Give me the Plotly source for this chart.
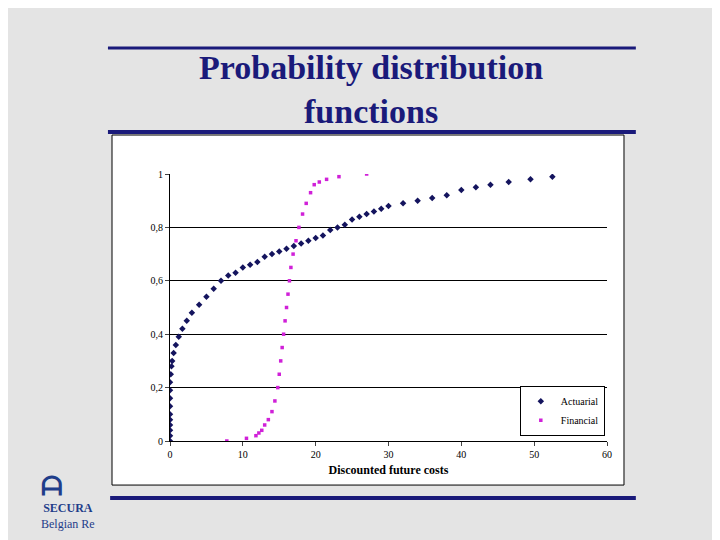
import plotly.graph_objects as go

# Actuarial distribution
act_x = [0, 0, 0, 0, 0, 0, 0, 0, 0, 0, 0.1, 0.2, 0.3, 0.5, 0.8, 1.2, 1.7, 2.3, 3, 4, 5, 6, 7,
         8, 9, 10, 11, 12, 13, 14, 15, 16, 17, 18, 19, 20, 21, 22, 23, 24, 25, 26, 27, 28,
         29, 30, 32, 34, 36, 38, 40, 42, 44, 46.5, 49.5, 52.5]
act_y = [0, 0.02, 0.04, 0.06, 0.08, 0.1, 0.13, 0.16, 0.19, 0.22, 0.25, 0.28, 0.3, 0.33, 0.36,
         0.39, 0.42, 0.45, 0.48, 0.51, 0.54, 0.57, 0.6, 0.62, 0.63, 0.65, 0.66, 0.67, 0.69,
         0.7, 0.71, 0.72, 0.73, 0.74, 0.75, 0.76, 0.77, 0.79, 0.8, 0.81, 0.83, 0.84, 0.85,
         0.86, 0.87, 0.88, 0.89, 0.9, 0.91, 0.92, 0.94, 0.95, 0.96, 0.97, 0.98, 0.99]

# Financial distribution
fin_x = [7.8, 10.5, 11.8, 12.2, 12.6, 13, 13.5, 14, 14.4, 14.8, 15, 15.2, 15.4, 15.6, 15.8,
         16, 16.2, 16.4, 16.6, 16.9, 17.3, 17.7, 18.2, 18.7, 19.3, 19.8, 20.5, 21.5, 23.2, 27]
fin_y = [0, 0.01, 0.02, 0.03, 0.04, 0.06, 0.08, 0.11, 0.15, 0.2, 0.25, 0.3, 0.35, 0.4, 0.45,
         0.5, 0.55, 0.6, 0.65, 0.7, 0.75, 0.8, 0.85, 0.89, 0.93, 0.96, 0.97, 0.98, 0.99, 1.0]

x_ticks = [0, 10, 20, 30, 40, 50, 60]
y_ticks = [0, 0.2, 0.4, 0.6, 0.8, 1]
y_labels = ["0", "0,2", "0,4", "0,6", "0,8", "1"]

NAVY = "#1a1a7a"
SERIF = "Liberation Serif"

fig = go.Figure()
fig.add_trace(go.Scatter(x=act_x, y=act_y, mode="markers", name="Actuarial",
                         marker=dict(symbol="diamond", size=5, color="#14145e")))
fig.add_trace(go.Scatter(x=fin_x, y=fin_y, mode="markers", name="Financial",
                         marker=dict(symbol="square", size=3.5, color="#d020d8")))

# chart box and decorative lines
fig.add_shape(type="rect", xref="paper", yref="paper", x0=-0.1327, x1=1.0389, y0=-0.165, y1=1.146,
              fillcolor="white", line=dict(color="black", width=1), layer="below")
for y, x0, w in [(1.472, -0.142, 3), (1.157, -0.142, 4), (-0.2135, -0.137, 4)]:
    fig.add_shape(type="line", xref="paper", yref="paper", x0=x0, x1=1.066, y0=y, y1=y,
                  line=dict(color=NAVY, width=w))

fig.add_annotation(text="<b>Probability distribution<br>functions</b>", xref="paper", yref="paper",
                   x=0.46, y=1.315, yanchor="middle", showarrow=False,
                   font=dict(family=SERIF, size=34, color=NAVY))
fig.add_annotation(text="<b>SECURA</b><br>Belgian Re", xref="paper", yref="paper",
                   x=-0.3, y=-0.28, yanchor="middle", showarrow=False, align="center",
                   font=dict(family=SERIF, size=12, color="#1f3d8a"))
fig.add_annotation(text="<b>ᗩ</b>", xref="paper", yref="paper", x=-0.3, y=-0.17,
                   yanchor="middle", showarrow=False,
                   font=dict(family="DejaVu Sans", size=26, color="#1f3d8a"))

fig.update_xaxes(range=[0, 60], tickvals=x_ticks, showgrid=False, zeroline=False,
                 showline=True, linecolor="black", ticks="outside", ticklen=4,
                 tickfont=dict(family=SERIF, size=10, color="black"),
                 title=dict(text="<b>Discounted future costs</b>",
                            font=dict(family=SERIF, size=12, color="black"), standoff=6))
fig.update_yaxes(range=[0, 1], tickvals=y_ticks, ticktext=y_labels, showgrid=True,
                 gridcolor="black", gridwidth=1, zeroline=False, showline=True,
                 linecolor="black", ticks="outside", ticklen=4,
                 tickfont=dict(family=SERIF, size=10, color="black"))

fig.update_layout(
    width=720, height=540,
    margin=dict(l=162, r=121, t=166, b=107),
    paper_bgcolor="#e4e4e4", plot_bgcolor="white",
    legend=dict(x=0.995, y=0.02, xanchor="right", yanchor="bottom", bgcolor="white",
                bordercolor="black", borderwidth=1, font=dict(family=SERIF, size=10, color="black"),
                itemwidth=30, tracegroupgap=0),
    showlegend=True,
)
fig.write_html("out.html")
